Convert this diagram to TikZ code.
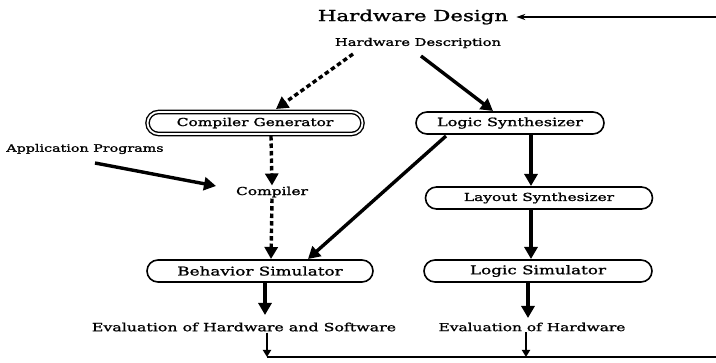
\documentclass[tikz,border=0pt]{standalone}
\usepackage{fontspec}
\setmainfont{DejaVu Serif}[FakeBold=1.4,FakeStretch=1.4]
\usetikzlibrary{arrows.meta}
\begin{document}
\begin{tikzpicture}[x=1pt,y=1pt,
  box/.style={draw,line width=1.6pt,rounded corners=11pt,minimum height=22pt,inner sep=0pt,font=\fontsize{11}{12}\selectfont},
  dbox/.style={box,double,double distance=1.8pt,line width=1.4pt},
  lbl/.style={inner sep=1pt,font=\fontsize{11}{12}\selectfont},
  big/.style={-{Triangle[length=12pt,width=13pt]},line width=3.4pt},
  bigdash/.style={big,dash pattern=on 4.5pt off 3pt},
  thin/.style={-{Triangle[length=7pt,width=8pt]},line width=1.9pt}]
\useasboundingbox (0,0) rectangle (716,-363);

% labels
\node[inner sep=1pt,font=\fontsize{15.2}{17}\selectfont] (hdes) at (413,-17) {Hardware Design};
\node[lbl,font=\fontsize{10.5}{12}\selectfont] (hdescr) at (418,-43) {Hardware Description};
\node[lbl,font=\fontsize{10.2}{12}\selectfont] (app) at (85,-149) {Application Programs};
\node[lbl] (comp) at (272,-192) {Compiler};
\node[lbl,font=\fontsize{11.3}{13}\selectfont] (evhs) at (244,-327) {Evaluation of Hardware and Software};
\node[lbl] (evh) at (532,-327) {Evaluation of Hardware};

% boxes
\node[dbox,minimum width=215pt] (cgen) at (255,-123) {Compiler Generator};
\node[box,minimum width=188pt,font=\fontsize{11.5}{13}\selectfont] (lsyn) at (510,-123) {Logic Synthesizer};
\node[box,minimum width=226pt,font=\fontsize{12}{13}\selectfont] (bsim) at (260,-271) {Behavior Simulator};
\node[box,minimum width=227pt] (lay) at (539,-198) {Layout Synthesizer};
\node[box,minimum width=228pt,font=\fontsize{12}{13}\selectfont] (lsim) at (538,-271) {Logic Simulator};

% feedback loop ends
\coordinate (j1) at (267,-357);
\coordinate (j2) at (526,-357);
\coordinate (rb) at (716,-357);
\coordinate (rt) at (716,-17);

% generation path (dashed)
\draw[bigdash] (353,-54) -- (276,-109);
\draw[bigdash] (271,-136) -- (comp.north);
\draw[bigdash] (comp.south) -- (271,-259);
\draw[big] (95,-163) -- (216,-186);

% synthesis path
\draw[big] (421,-56) -- (493,-111);
\draw[big] (446,-136) -- (308,-259);
\draw[big] (531,-135) -- (531,-186);
\draw[big] (531,-210) -- (531,-259);
\draw[big] (265,-283) -- (265,-315);
\draw[big] (528,-283) -- (528,-318);

% evaluation back to design
\draw[thin] (evhs.south -| j1) -- (j1);
\draw[thin] (evh.south -| j2) -- (j2);
\draw[line width=1.6pt] (j1) -- (rb);
\draw[-{Stealth[length=9pt,width=6pt]},line width=1.4pt,shorten >=7pt] (rt) -- (hdes.east);
\end{tikzpicture}
\end{document}
